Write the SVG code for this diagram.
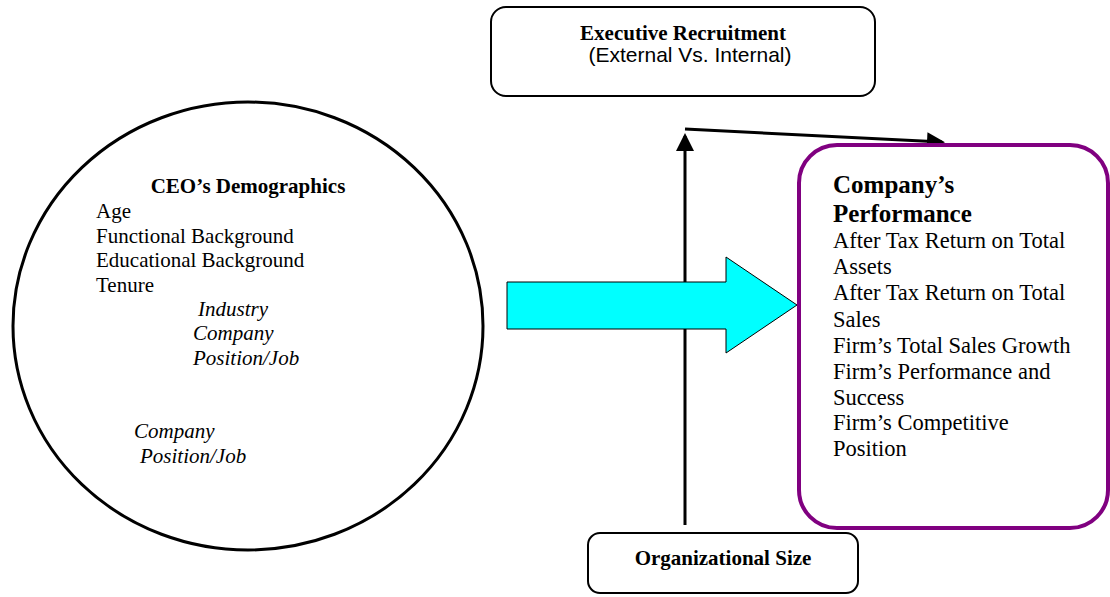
<svg xmlns="http://www.w3.org/2000/svg" width="1110" height="597" viewBox="0 0 1110 597">
<style>
.box{fill:#fff;stroke:#000;stroke-width:2}
.t{font-family:"Liberation Serif","Times New Roman",serif;font-size:21px;fill:#000}
.b{font-weight:bold}
.i{font-style:italic}
.s{font-family:"Liberation Sans",Arial,sans-serif;font-size:21px;fill:#000}
.p{font-family:"Liberation Serif","Times New Roman",serif;font-size:22.5px;fill:#000}
.pb{font-family:"Liberation Serif","Times New Roman",serif;font-size:25px;font-weight:bold;fill:#000}
.con{stroke:#000;stroke-width:3;fill:none}
</style>
<defs>
<marker id="ah" markerWidth="6" markerHeight="6" refX="5" refY="3" orient="auto" markerUnits="strokeWidth">
<path d="M0,0 L6,3 L0,6 Z" fill="#000"/>
</marker>
</defs>
<rect width="1110" height="597" fill="#fff"/>
<g id="connectors">
<line class="con" x1="685" y1="525" x2="685" y2="136" marker-end="url(#ah)"/>
<line class="con" x1="685" y1="129" x2="942" y2="142" marker-end="url(#ah)"/>
<polygon points="507,282 726,282 726,257 797,305 726,353 726,329 507,329" fill="#00FFFF" stroke="#000" stroke-width="1"/>
</g>
<g id="executive-recruitment">
<rect class="box" x="491" y="7" width="384" height="89" rx="15"/>
<text class="t b" x="683" y="40" text-anchor="middle">Executive Recruitment</text>
<text class="s" x="690" y="62" text-anchor="middle">(External Vs. Internal)</text>
</g>
<g id="ceo-demographics">
<ellipse cx="248" cy="326" rx="235" ry="224" fill="#fff" stroke="#000" stroke-width="3"/>
<text class="t b" x="248" y="193" text-anchor="middle">CEO’s Demographics</text>
<text class="t" x="96" y="218">Age</text>
<text class="t" x="96" y="243">Functional Background</text>
<text class="t" x="96" y="267">Educational Background</text>
<text class="t" x="96" y="292">Tenure</text>
<text class="t i" x="198" y="316">Industry</text>
<text class="t i" x="193" y="340">Company</text>
<text class="t i" x="193" y="365">Position/Job</text>
<text class="t i" x="134" y="438">Company</text>
<text class="t i" x="140" y="463">Position/Job</text>
</g>
<g id="company-performance">
<rect x="799" y="145" width="309" height="383" rx="38" fill="#fff" stroke="#800080" stroke-width="4"/>
<text class="pb" x="833" y="193">Company’s</text>
<text class="pb" x="833" y="222">Performance</text>
<text class="p" x="833" y="248">After Tax Return on Total</text>
<text class="p" x="833" y="274">Assets</text>
<text class="p" x="833" y="300">After Tax Return on Total</text>
<text class="p" x="833" y="327">Sales</text>
<text class="p" x="833" y="353">Firm’s Total Sales Growth</text>
<text class="p" x="833" y="379">Firm’s Performance and</text>
<text class="p" x="833" y="405">Success</text>
<text class="p" x="833" y="430">Firm’s Competitive</text>
<text class="p" x="833" y="456">Position</text>
</g>
<g id="organizational-size">
<rect class="box" x="588" y="533" width="270" height="60" rx="12"/>
<text class="t b" x="723" y="565" text-anchor="middle">Organizational Size</text>
</g>
</svg>
